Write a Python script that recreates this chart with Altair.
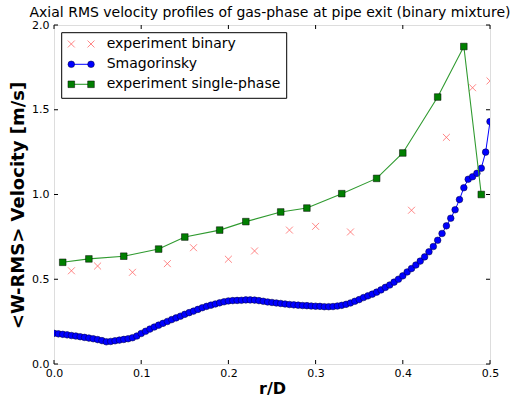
import altair as alt
import pandas as pd

# ---------------- data ----------------
binary_r = [0.02, 0.05, 0.09, 0.13, 0.16, 0.20, 0.23, 0.27, 0.30, 0.34, 0.41, 0.45, 0.48, 0.50]
binary_v = [0.55, 0.578, 0.541, 0.592, 0.686, 0.618, 0.667, 0.79, 0.812, 0.779, 0.907, 1.337, 1.63, 1.67]

single_r = [0.01, 0.04, 0.08, 0.12, 0.15, 0.19, 0.22, 0.26, 0.29, 0.33, 0.37, 0.40, 0.44, 0.47, 0.49]
single_v = [0.60, 0.62, 0.636, 0.678, 0.749, 0.79, 0.84, 0.897, 0.92, 1.005, 1.095, 1.245, 1.575, 1.873, 1.00]

smag_r = [0.000, 0.005, 0.010, 0.015, 0.020, 0.025, 0.030, 0.035, 0.040, 0.045,
          0.050, 0.055, 0.060, 0.065, 0.070, 0.075, 0.080, 0.085, 0.090, 0.095,
          0.100, 0.105, 0.110, 0.115, 0.120, 0.125, 0.130, 0.135, 0.140, 0.145,
          0.150, 0.155, 0.160, 0.165, 0.170, 0.175, 0.180, 0.185, 0.190, 0.195,
          0.200, 0.205, 0.210, 0.215, 0.220, 0.225, 0.230, 0.235, 0.240, 0.245,
          0.250, 0.255, 0.260, 0.265, 0.270, 0.275, 0.280, 0.285, 0.290, 0.295,
          0.300, 0.305, 0.310, 0.315, 0.320, 0.325, 0.330, 0.335, 0.340, 0.345,
          0.350, 0.355, 0.360, 0.365, 0.370, 0.375, 0.380, 0.385, 0.390, 0.395,
          0.400, 0.405, 0.410, 0.415, 0.420, 0.425, 0.430, 0.435, 0.440, 0.445,
          0.450, 0.455, 0.460, 0.465, 0.470, 0.475, 0.480, 0.485, 0.490, 0.495,
          0.500]
smag_v = [0.181, 0.178, 0.175, 0.172, 0.168, 0.165, 0.161, 0.157, 0.153, 0.149,
          0.144, 0.138, 0.131, 0.133, 0.137, 0.141, 0.145, 0.149, 0.155, 0.165,
          0.180, 0.193, 0.206, 0.218, 0.229, 0.240, 0.251, 0.262, 0.272, 0.282,
          0.293, 0.303, 0.312, 0.322, 0.332, 0.340, 0.347, 0.354, 0.361, 0.367,
          0.372, 0.374, 0.375, 0.376, 0.378, 0.378, 0.377, 0.374, 0.370, 0.366,
          0.363, 0.360, 0.357, 0.354, 0.351, 0.349, 0.347, 0.345, 0.344, 0.342,
          0.341, 0.340, 0.338, 0.338, 0.339, 0.342, 0.346, 0.352, 0.360, 0.370,
          0.380, 0.392, 0.402, 0.412, 0.424, 0.437, 0.452, 0.466, 0.483, 0.500,
          0.520, 0.543, 0.563, 0.584, 0.607, 0.632, 0.662, 0.693, 0.730, 0.770,
          0.815, 0.860, 0.910, 0.970, 1.040, 1.090, 1.105, 1.125, 1.155, 1.250,
          1.430]

x_ticks = [0.0, 0.1, 0.2, 0.3, 0.4, 0.5]
y_ticks = [0.0, 0.5, 1.0, 1.5, 2.0]

legend_labels = ["experiment binary", "Smagorinsky", "experiment single-phase"]
title_text = "Axial RMS velocity profiles of gas-phase at pipe exit (binary mixture)"
x_title = "r/D"
y_title = "<W-RMS> Velocity [m/s]"

# ---------------- layout ----------------
W, H = 436, 339
FONT = "DejaVu Sans"
RED = "#ff2a2a"
BLUE = "#0000ff"
GREEN_FILL = "#007f00"
GREEN_LINE = "#2f9a2f"
XSHAPE = "M-1,-1L1,1M-1,1L1,-1"

bin_df = pd.DataFrame({"r": binary_r, "v": binary_v})
sin_df = pd.DataFrame({"r": single_r, "v": single_v})
sma_df = pd.DataFrame({"r": smag_r, "v": smag_v})
xt_df = pd.DataFrame({"r": x_ticks})
yt_df = pd.DataFrame({"v": y_ticks})

xscale = alt.Scale(domain=[0, 0.5], nice=False, zero=False)
yscale = alt.Scale(domain=[0, 2.0], nice=False, zero=False)

x_axis = alt.Axis(values=x_ticks, format=".1f", title=x_title, ticks=False, tickSize=0,
                  domain=False, grid=False, labelFont=FONT, labelFontSize=11,
                  labelColor="black", labelPadding=3, labelFlush=False,
                  titleFont=FONT, titleFontSize=16, titleFontWeight="bold",
                  titleColor="black", titleBaseline="middle", titleX=W / 2, titleY=24)
y_axis = alt.Axis(values=y_ticks, format=".1f", title=y_title, ticks=False, tickSize=0,
                  domain=False, grid=False, labelFont=FONT, labelFontSize=11,
                  labelColor="black", labelPadding=5, labelFlush=False,
                  titleFont=FONT, titleFontSize=18, titleFontWeight="bold",
                  titleColor="black", titleAngle=270, titleAlign="center",
                  titleBaseline="middle", titleX=-36, titleY=180)

X = alt.X("r:Q", scale=xscale, axis=x_axis)
Y = alt.Y("v:Q", scale=yscale, axis=y_axis)

binary = alt.Chart(bin_df).mark_point(
    shape=XSHAPE, filled=False, stroke=RED, strokeOpacity=0.8, strokeWidth=1,
    size=48, clip=True
).encode(x=X, y=Y)

smag_line = alt.Chart(sma_df).mark_line(color=BLUE, strokeWidth=1, clip=True).encode(x=X, y=Y)
smag_pts = alt.Chart(sma_df).mark_point(
    shape="circle", filled=True, fill=BLUE, stroke="#000033", strokeWidth=0.5,
    opacity=1, size=44, clip=True
).encode(x=X, y=Y)

single_line = alt.Chart(sin_df).mark_line(color=GREEN_LINE, strokeWidth=1.1, clip=True).encode(x=X, y=Y)
single_pts = alt.Chart(sin_df).mark_point(
    shape="square", filled=True, fill=GREEN_FILL, stroke="black", strokeWidth=0.5,
    opacity=1, size=44, clip=True
).encode(x=X, y=Y)

# inward ticks on all four sides
TL = 4
xt_bottom = alt.Chart(xt_df).mark_rule(color="black", strokeWidth=1).encode(
    x=X, y=alt.value(H), y2=alt.value(H - TL))
xt_top = alt.Chart(xt_df).mark_rule(color="black", strokeWidth=1).encode(
    x=X, y=alt.value(0), y2=alt.value(TL))
yt_left = alt.Chart(yt_df).mark_rule(color="black", strokeWidth=1).encode(
    y=Y, x=alt.value(0), x2=alt.value(TL))
yt_right = alt.Chart(yt_df).mark_rule(color="black", strokeWidth=1).encode(
    y=Y, x=alt.value(W), x2=alt.value(W - TL))

one = pd.DataFrame({"k": [0]})

# title as a text mark above the plot area
title_mark = alt.Chart(one).mark_text(
    text=title_text, font=FONT, fontSize=14, color="black", align="center",
    baseline="alphabetic").encode(x=alt.value(W / 2 - 2), y=alt.value(-8))

# legend (drawn manually, matplotlib style)
LX0, LX1, LY0, LY1 = 7.7, 232.7, 7.7, 73.3
M1, M2, TX = 17.3, 37.0, 52.7
ROWS = [19.0, 39.3, 59.3]

leg_box = alt.Chart(one).mark_rect(fill="white", stroke="black", strokeWidth=1).encode(
    x=alt.value(LX0), x2=alt.value(LX1), y=alt.value(LY0), y2=alt.value(LY1))

leg_layers = [leg_box]
for i, lab in enumerate(legend_labels):
    yy = ROWS[i]
    if i == 0:
        for mx in (M1, M2):
            leg_layers.append(alt.Chart(one).mark_point(
                shape=XSHAPE, filled=False, stroke=RED, strokeOpacity=0.8,
                strokeWidth=1, size=48).encode(x=alt.value(mx), y=alt.value(yy)))
    else:
        lc = BLUE if i == 1 else GREEN_LINE
        lw = 1 if i == 1 else 1.1
        leg_layers.append(alt.Chart(one).mark_rule(color=lc, strokeWidth=lw).encode(
            x=alt.value(M1), x2=alt.value(M2), y=alt.value(yy)))
        for mx in (M1, M2):
            if i == 1:
                leg_layers.append(alt.Chart(one).mark_point(
                    shape="circle", filled=True, fill=BLUE, stroke="#000033",
                    strokeWidth=0.5, opacity=1, size=44).encode(x=alt.value(mx), y=alt.value(yy)))
            else:
                leg_layers.append(alt.Chart(one).mark_point(
                    shape="square", filled=True, fill=GREEN_FILL, stroke="black",
                    strokeWidth=0.5, opacity=1, size=44).encode(x=alt.value(mx), y=alt.value(yy)))
    leg_layers.append(alt.Chart(one).mark_text(
        text=lab, font=FONT, fontSize=14, color="black", align="left", baseline="middle"
    ).encode(x=alt.value(TX), y=alt.value(yy)))

chart = alt.layer(
    binary, smag_line, smag_pts, single_line, single_pts,
    xt_bottom, xt_top, yt_left, yt_right, title_mark,
    *leg_layers
).properties(
    width=W, height=H,
    autosize=alt.AutoSizeParams(type="none"),
    padding={"left": 54, "top": 25, "right": 25, "bottom": 36},
).configure_view(
    stroke="#222222", strokeWidth=1
).configure(background="white")

chart.save("out.html", embed_options={"renderer": "svg", "actions": False})
